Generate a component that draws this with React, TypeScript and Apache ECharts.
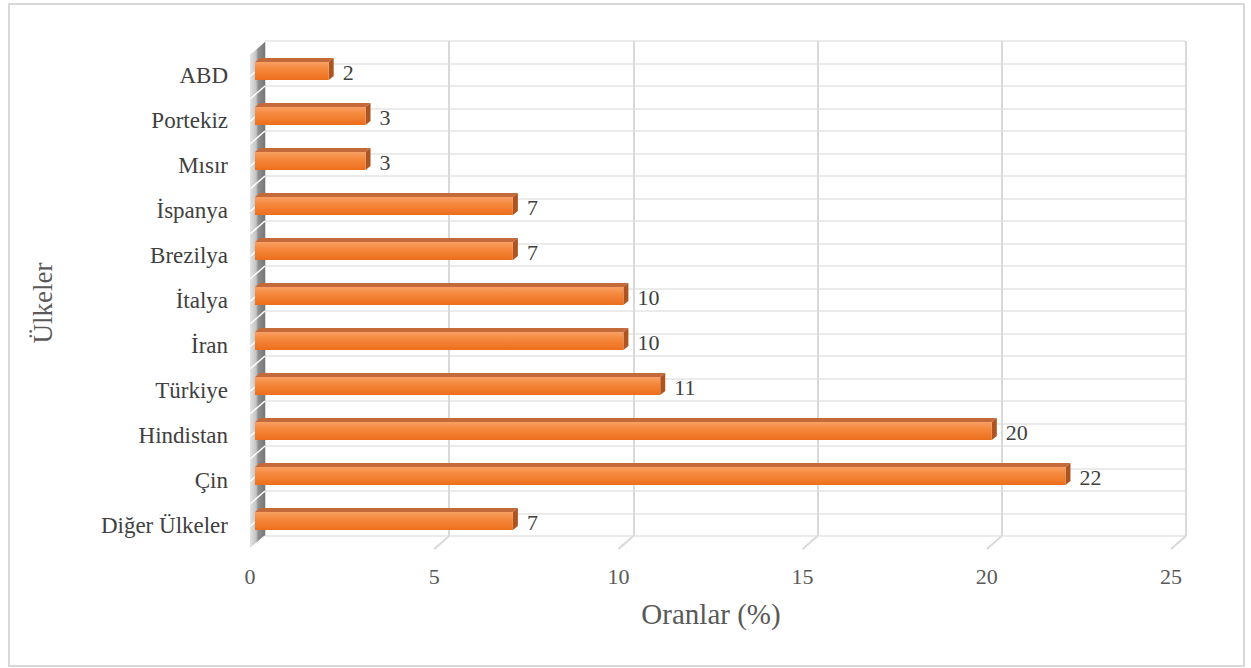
import React, { useEffect, useRef } from "react";
import * as echarts from "echarts";

const categories = ["ABD", "Portekiz", "Mısır", "İspanya", "Brezilya", "İtalya", "İran", "Türkiye", "Hindistan", "Çin", "Diğer Ülkeler"];
const values = [2, 3, 3, 7, 7, 10, 10, 11, 20, 22, 7];
const xMax = 25;
const xStep = 5;
const floorTicks = [5, 10, 15, 20, 25];
const wallRows = Array.from({ length: 23 }, (_, i) => i);
const xTitle = "Oranlar (%)";
const yTitle = "Ülkeler";

const FONT = '"Liberation Serif", "Times New Roman", serif';
const DX = -15;
const DY = 13;

export default function App() {
  const ref = useRef<HTMLDivElement>(null);
  useEffect(() => {
    if (!ref.current) return;
    const chart = echarts.init(ref.current, null, { renderer: "svg" });
    const barFill = new echarts.graphic.LinearGradient(0, 0, 0, 1, [
      { offset: 0, color: "#f8a065" },
      { offset: 0.35, color: "#f58a3f" },
      { offset: 1, color: "#ec6e1c" },
    ]);
    const wallFill = new echarts.graphic.LinearGradient(0, 0, 1, 0, [
      { offset: 0, color: "#e4e4e4" },
      { offset: 0.4, color: "#c4c4c4" },
      { offset: 0.55, color: "#8e8e8e" },
      { offset: 1, color: "#777777" },
    ]);
    const option: any = {
      animation: false,
      backgroundColor: "#ffffff",
      grid: [
        { left: 265, top: 41, width: 921, height: 495 },
        { left: 255, top: 48.5, width: 921, height: 495 },
        { left: 250, top: 52.5, width: 921, height: 495 },
      ],
      xAxis: [
        {
          gridIndex: 0, type: "value", min: 0, max: xMax, interval: xStep,
          axisLabel: { show: false }, axisLine: { show: false }, axisTick: { show: false },
          splitLine: { show: true, lineStyle: { color: "#d9d9d9", width: 2 } },
        },
        {
          gridIndex: 1, type: "value", min: 0, max: xMax, interval: xStep,
          axisLabel: { show: false }, axisLine: { show: false }, axisTick: { show: false }, splitLine: { show: false },
        },
        {
          gridIndex: 2, type: "value", min: 0, max: xMax, interval: xStep,
          axisLabel: { show: true, color: "#595959", fontSize: 22, fontFamily: FONT, margin: 18 },
          axisLine: { show: false }, axisTick: { show: false }, splitLine: { show: false },
        },
      ],
      yAxis: [
        {
          gridIndex: 0, type: "value", min: 0, max: 22, interval: 1,
          axisLabel: { show: false }, axisLine: { show: false }, axisTick: { show: false },
          splitLine: { show: true, lineStyle: { color: "#ebebeb", width: 2 } },
        },
        {
          gridIndex: 1, type: "category", data: categories, inverse: true,
          axisLabel: { show: false }, axisLine: { show: false }, axisTick: { show: false }, splitLine: { show: false },
        },
        {
          gridIndex: 2, type: "category", data: categories, inverse: true,
          axisLabel: { show: true, color: "#404040", fontSize: 23, fontFamily: FONT, margin: 22 },
          axisLine: { show: false }, axisTick: { show: false }, splitLine: { show: false },
        },
      ],
      graphic: [
        {
          type: "rect", shape: { x: 9, y: 4, width: 1235, height: 662 },
          style: { fill: "none", stroke: "#d9d9d9", lineWidth: 2 }, silent: true,
        },
        {
          type: "text", x: 711, y: 614,
          style: { text: xTitle, fontSize: 29, fontFamily: FONT, fill: "#595959", align: "center", verticalAlign: "middle" },
        },
        {
          type: "text", x: 43, y: 303, rotation: Math.PI / 2,
          style: { text: yTitle, fontSize: 27, fontFamily: FONT, fill: "#595959", align: "center", verticalAlign: "middle" },
        },
      ],
      series: [
        {
          type: "custom", xAxisIndex: 0, yAxisIndex: 0, silent: true,
          data: floorTicks.map((t) => [t]),
          encode: { x: 0 },
          renderItem: (params: any, api: any) => {
            const p = api.coord([api.value(0), 0]);
            return {
              type: "line",
              shape: { x1: p[0], y1: p[1], x2: p[0] + DX, y2: p[1] + DY },
              style: { stroke: "#d9d9d9", lineWidth: 2 },
            };
          },
        },
        {
          type: "custom", xAxisIndex: 0, yAxisIndex: 0, silent: true,
          data: [[0, 0]],
          encode: { x: 0, y: 1 },
          renderItem: (params: any, api: any) => {
            const top = api.coord([0, 22]);
            const bot = api.coord([0, 0]);
            const children: any[] = [
              {
                type: "polygon",
                shape: { points: [[top[0], top[1]], [bot[0], bot[1]], [bot[0] + DX, bot[1] + DY], [top[0] + DX, top[1] + DY]] },
                style: { fill: wallFill },
              },
            ];
            wallRows.forEach((r) => {
              const p = api.coord([0, r]);
              children.push({
                type: "line",
                shape: { x1: p[0], y1: p[1], x2: p[0] + DX, y2: p[1] + DY },
                style: { stroke: "#ffffff", lineWidth: 1.5 },
              });
            });
            return { type: "group", children };
          },
        },
        {
          type: "custom", xAxisIndex: 1, yAxisIndex: 1, silent: true,
          data: values.map((v, i) => [v, i]),
          encode: { x: 0, y: 1 },
          renderItem: (params: any, api: any) => {
            const v = api.value(0);
            const idx = api.value(1);
            const s = api.coord([0, idx]);
            const e = api.coord([v, idx]);
            const h = api.size([0, 1])[1] * 0.4;
            const x0 = s[0];
            const x1 = e[0];
            const yc = s[1];
            const t = yc - h / 2;
            const b = yc + h / 2;
            const d = 5;
            const dy = 4;
            return {
              type: "group",
              children: [
                {
                  type: "polygon",
                  shape: { points: [[x0, t], [x1, t], [x1 + d, t - dy], [x0 + d, t - dy]] },
                  style: { fill: "#c46a3a" },
                },
                {
                  type: "polygon",
                  shape: { points: [[x1, t], [x1 + d, t - dy], [x1 + d, b - dy], [x1, b]] },
                  style: { fill: "#ad5420" },
                },
                {
                  type: "rect",
                  shape: { x: x0, y: t, width: x1 - x0, height: h },
                  style: { fill: barFill },
                },
                {
                  type: "text",
                  x: x1 + d + 9,
                  y: yc + 1,
                  style: { text: String(v), fontSize: 22, fontFamily: FONT, fill: "#404040", align: "left", verticalAlign: "middle" },
                },
              ],
            };
          },
        },
      ],
    };
    chart.setOption(option);
    return () => chart.dispose();
  }, []);
  return (
    <div
      ref={ref}
      style={{ position: "fixed", left: 0, top: 0, width: 1251, height: 668, background: "#ffffff" }}
    />
  );
}
